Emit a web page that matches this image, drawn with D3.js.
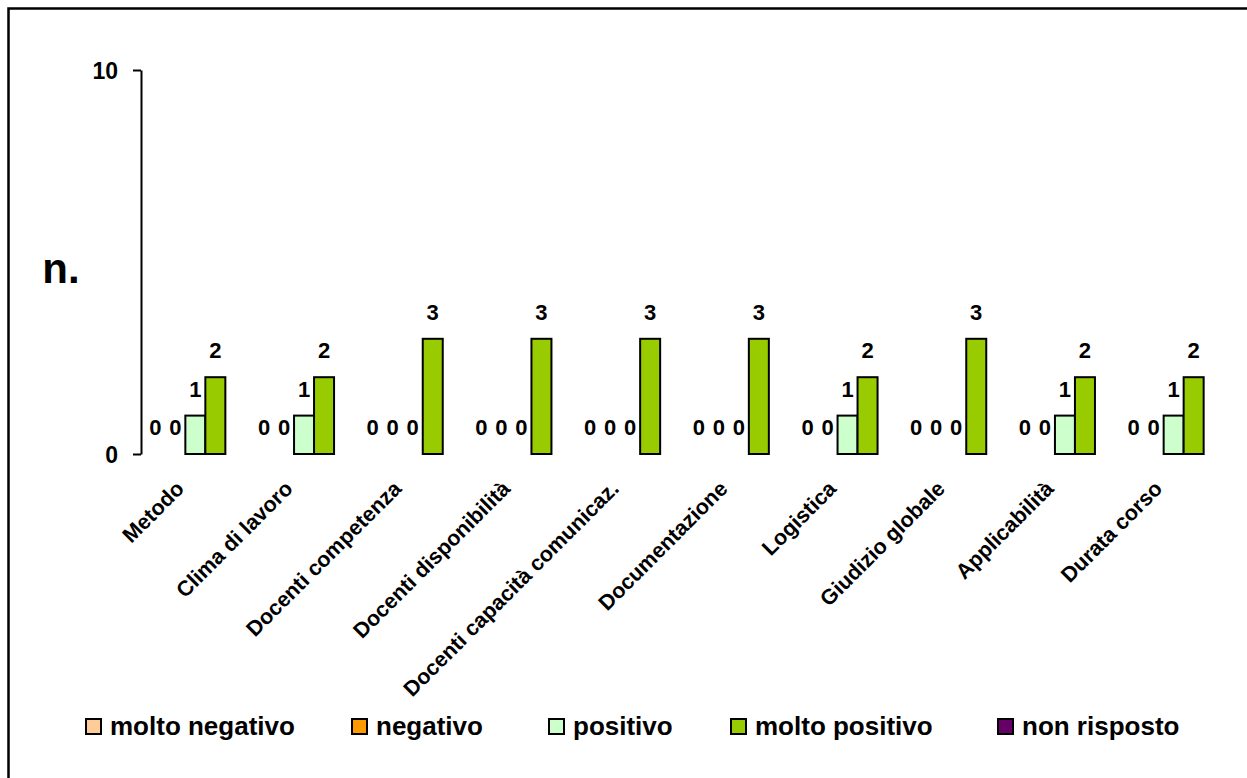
<!DOCTYPE html>
<html>
<head>
<meta charset="utf-8">
<script src="https://cdn.jsdelivr.net/npm/d3@7"></script>
<style>
  body { margin: 0; background: #fff; }
  svg text { font-family: "Liberation Sans", Arial, sans-serif; font-weight: bold; fill: #000; }
</style>
</head>
<body>
<div id="chart"></div>
<script>
var categories = ['Metodo', 'Clima di lavoro', 'Docenti competenza', 'Docenti disponibilità',
  'Docenti capacità comunicaz.', 'Documentazione', 'Logistica', 'Giudizio globale',
  'Applicabilità', 'Durata corso'];
var seriesNames = ['molto negativo', 'negativo', 'positivo', 'molto positivo', 'non risposto'];
var seriesColors = ['#FFCC99', '#FF9900', '#CCFFCC', '#99CC00', '#660066'];

var moltoNegativo = [0, 0, 0, 0, 0, 0, 0, 0, 0, 0];
var negativo      = [0, 0, 0, 0, 0, 0, 0, 0, 0, 0];
var positivo      = [1, 1, 0, 0, 0, 0, 1, 0, 1, 1];
var moltoPositivo = [2, 2, 3, 3, 3, 3, 2, 3, 2, 2];
var nonRisposto   = [null, null, null, null, null, null, null, null, null, null];
var seriesValues = [moltoNegativo, negativo, positivo, moltoPositivo, nonRisposto];

var yTicks = [0, 10];
var yLabel = 'n.';

var W = 1247, H = 778;
var plot = { left: 141, right: 1228, top: 70, bottom: 454 };
var legendX = [86, 352, 549, 731, 998];

var svg = d3.select('#chart').append('svg')
  .attr('width', W)
  .attr('height', H);

svg.append('rect')
  .attr('x', 8.5).attr('y', 8.5)
  .attr('width', W + 50).attr('height', H + 50)
  .attr('fill', '#fff')
  .attr('stroke', '#000')
  .attr('stroke-width', 2.5);

var x0 = d3.scaleBand().domain(categories).range([plot.left, plot.right]).padding(0);
var x1 = d3.scaleBand().domain(seriesNames).range([0, x0.bandwidth()]).paddingOuter(0.2175).paddingInner(0);
var y = d3.scaleLinear().domain([0, 10]).range([plot.bottom, plot.top]);

// y axis
var yAxis = svg.append('g')
  .attr('transform', 'translate(' + plot.left + ',0)')
  .call(d3.axisLeft(y).tickValues(yTicks).tickSize(8).tickSizeOuter(0).tickPadding(15));
yAxis.select('.domain').attr('stroke', '#000').attr('stroke-width', 2);
yAxis.selectAll('.tick line').attr('stroke', '#000').attr('stroke-width', 2);
yAxis.selectAll('.tick text')
  .style('font-size', '23px')
  .attr('dy', '0.36em');

svg.append('text')
  .attr('x', 61).attr('y', 283)
  .attr('text-anchor', 'middle')
  .style('font-size', '42px')
  .text(yLabel);

// bars
var groups = svg.append('g').selectAll('g')
  .data(categories)
  .enter().append('g')
  .attr('transform', function(d) { return 'translate(' + x0(d) + ',0)'; });

seriesNames.forEach(function(name, si) {
  var vals = seriesValues[si];
  groups.each(function(cat, ci) {
    var v = vals[ci];
    if (v === null) return;
    var g = d3.select(this);
    if (v > 0) {
      g.append('rect')
        .attr('x', x1(name))
        .attr('y', y(v))
        .attr('width', x1.bandwidth())
        .attr('height', y(0) - y(v))
        .attr('fill', seriesColors[si])
        .attr('stroke', '#000')
        .attr('stroke-width', 2);
    }
    g.append('text')
      .attr('x', x1(name) + x1.bandwidth() / 2)
      .attr('y', y(v) - 19)
      .attr('text-anchor', 'middle')
      .style('font-size', '22px')
      .text(v);
  });
});

// category labels
svg.append('g').selectAll('text')
  .data(categories)
  .enter().append('text')
  .attr('text-anchor', 'end')
  .attr('transform', function(d) {
    return 'translate(' + (x0(d) + x0.bandwidth() / 2 - 10) + ',490) rotate(-45)';
  })
  .style('font-size', '21.5px')
  .text(function(d) { return d; });

// legend
var legend = svg.append('g').selectAll('g')
  .data(seriesNames)
  .enter().append('g')
  .attr('transform', function(d, i) { return 'translate(' + legendX[i] + ',719)'; });
legend.append('rect')
  .attr('width', 15).attr('height', 15)
  .attr('fill', function(d, i) { return seriesColors[i]; })
  .attr('stroke', '#000')
  .attr('stroke-width', 2);
legend.append('text')
  .attr('x', 24).attr('y', 16)
  .style('font-size', '26px')
  .text(function(d) { return d; });
</script>
</body>
</html>
